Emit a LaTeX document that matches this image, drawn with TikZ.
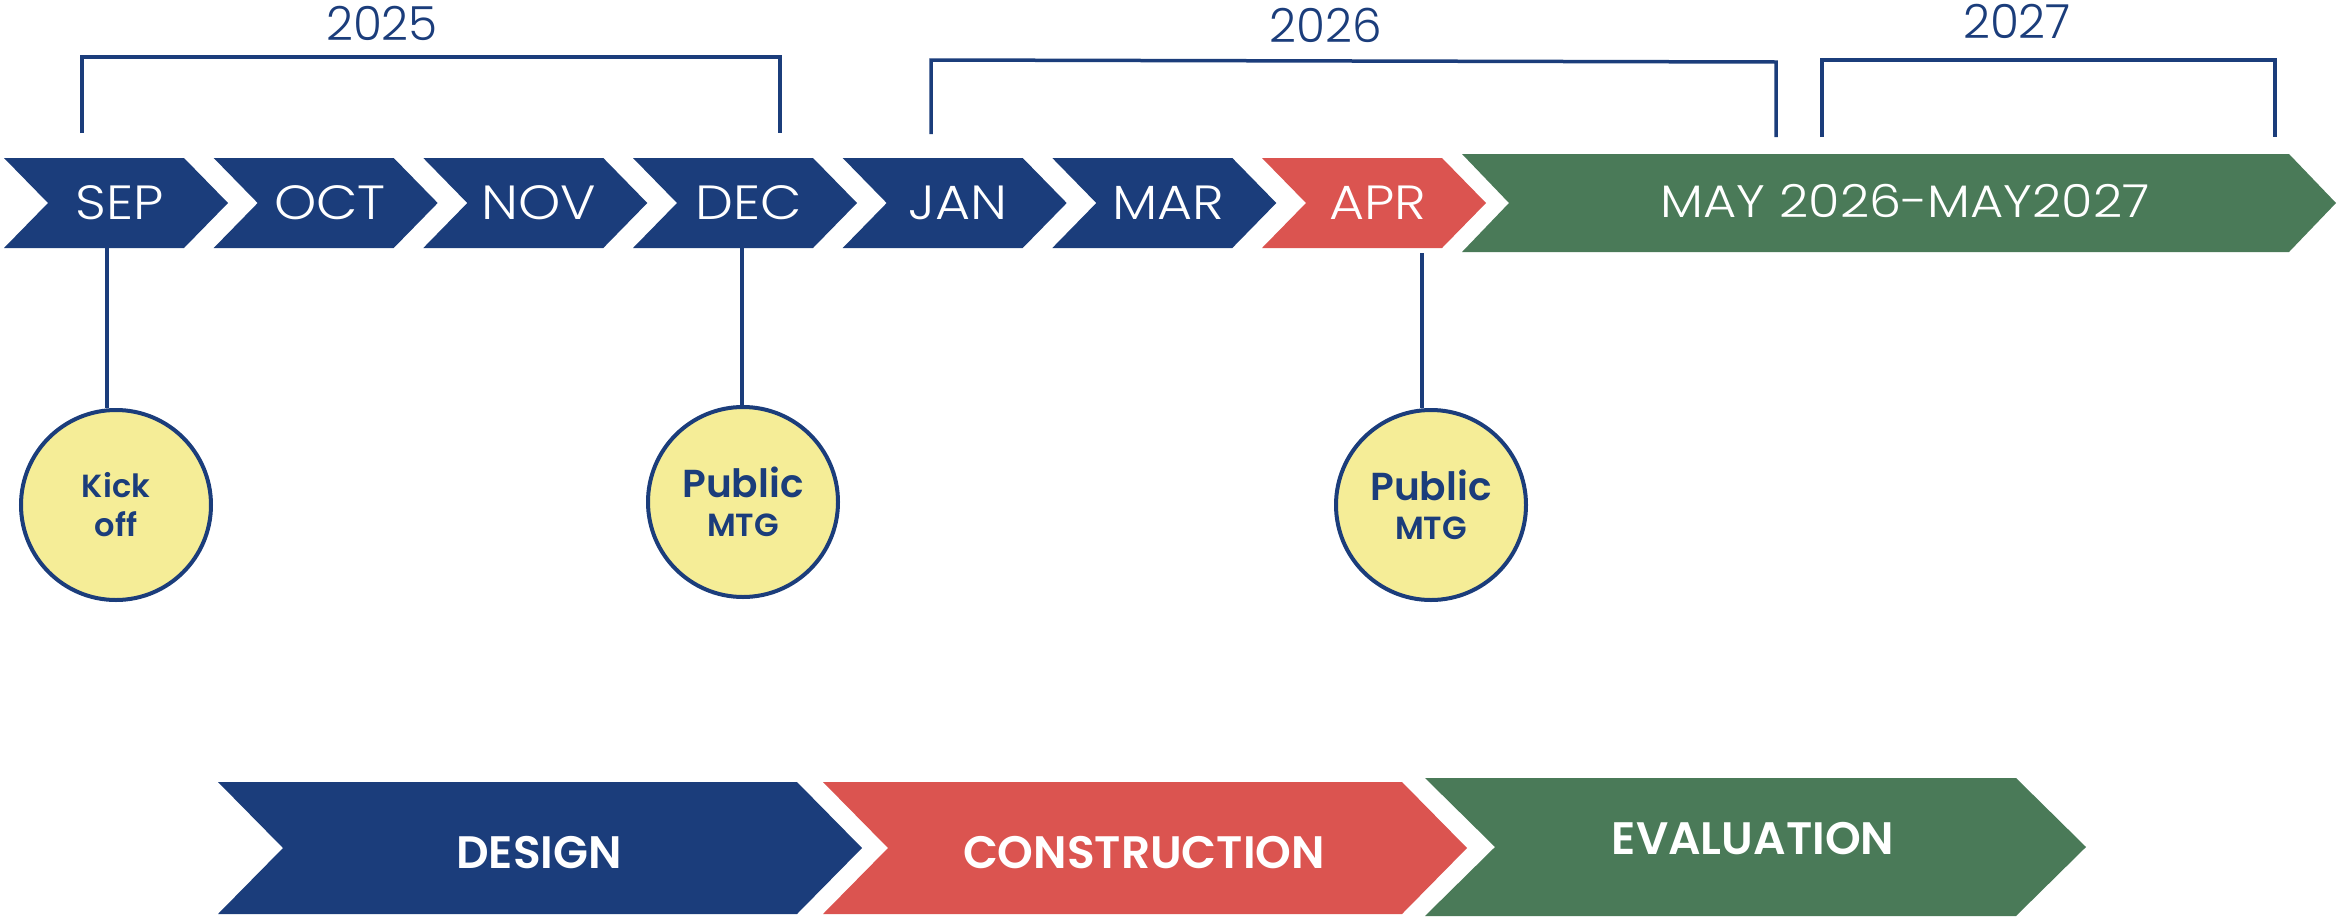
\documentclass[tikz,border=0pt]{standalone}
\usepackage{fontspec}
\setmainfont{Poppins}
\newfontfamily\lightf{Poppins Light}
\newfontfamily\monthf{Poppins Light}[FakeStretch=1.12]
\newfontfamily\boldf{Poppins SemiBold}
\definecolor{tblue}{RGB}{27,61,123}
\definecolor{tred}{RGB}{219,84,80}
\definecolor{tgreen}{RGB}{74,122,88}
\definecolor{tyellow}{RGB}{245,237,151}
% #1 left, #2 top, #3 width (left to tip), #4 height, #5 point depth, #6 colour
\newcommand\chevshape[6]{%
  \fill[#6] (#1,#2) -- ++({#3-#5},0) -- ++(#5,{#4/2}) -- ++(-#5,{#4/2})
    -- ++({-(#3-#5)},0) -- ++(#5,{-#4/2}) -- cycle;}
\begin{document}
\begin{tikzpicture}[x=1pt,y=-1pt,
  month/.style={font=\monthf\fontsize{48}{48}\selectfont, text=white, inner sep=0pt},
  year/.style={font=\lightf\fontsize{47}{47}\selectfont, text=tblue, inner sep=0pt},
  phase/.style={font=\boldf\fontsize{45.5}{45.5}\selectfont, text=white, inner sep=0pt},
  mile/.style={circle, draw=tblue, line width=4pt, fill=tyellow, minimum size=190pt,
    inner sep=0pt, align=center, text=tblue, font=\boldf\fontsize{32}{39}\selectfont},
  bracket/.style={draw=tblue, line width=3.5pt},
  stem/.style={draw=tblue, line width=3.5pt}]
\useasboundingbox (0,0) rectangle (2338,919);

% month chevrons
\chevshape{4}{158}{224}{90}{44}{tblue}
\chevshape{213.7}{158}{224}{90}{44}{tblue}
\chevshape{423.3}{158}{224}{90}{44}{tblue}
\chevshape{633}{158}{224}{90}{44}{tblue}
\chevshape{842.7}{158}{224}{90}{44}{tblue}
\chevshape{1052.3}{158}{224}{90}{44}{tblue}
\chevshape{1262}{158}{224}{90}{44}{tred}
\chevshape{1462}{154}{874}{98}{47}{tgreen}

\node[month] (sep) at (120,203) {SEP};
\node[month] (oct) at (330,203) {OCT};
\node[month] (nov) at (539,203) {NOV};
\node[month] (dec) at (749,203) {DEC};
\node[month] (jan) at (958,203) {JAN};
\node[month] (mar) at (1168,203) {MAR};
\node[month] (apr) at (1378,203) {APR};
\node[month, font=\monthf\fontsize{45.5}{45.5}\selectfont] (may) at (1905,201) {MAY 2026-MAY2027};

% year brackets
\node[year] (y25) at (382,23) {2025};
\node[year] (y26) at (1326,25) {2026};
\node[year] (y27) at (2017,21) {2027};
\coordinate (b25a) at (82,133);  \coordinate (b25b) at (82,57);
\coordinate (b25c) at (780,57);  \coordinate (b25d) at (780,133);
\draw[bracket] (b25a) -- (b25b) -- (b25c) -- (b25d);
\coordinate (b26a) at (931,134); \coordinate (b26b) at (931,60);
\coordinate (b26c) at (1776,62); \coordinate (b26d) at (1776,137);
\draw[bracket] (b26a) -- (b26b) -- (b26c) -- (b26d);
\coordinate (b27a) at (1822,137); \coordinate (b27b) at (1822,60);
\coordinate (b27c) at (2275,60);  \coordinate (b27d) at (2275,137);
\draw[bracket] (b27a) -- (b27b) -- (b27c) -- (b27d);

% milestones
\node[mile] (kick) at (116,505) {Kick\\off};
\node[mile] (pub1) at (743,502) {{\fontsize{39}{39}\selectfont Public}\\MTG};
\node[mile] (pub2) at (1431,505) {{\fontsize{39}{39}\selectfont Public}\\MTG};
\coordinate (s1) at (107,248);
\coordinate (s2) at (742,248);
\coordinate (s3) at (1422,253);
\draw[stem] (s1) -- (s1 |- kick.north);
\draw[stem] (s2) -- (s2 |- pub1.north);
\draw[stem] (s3) -- (s3 |- pub2.north);

% phase chevrons
\chevshape{218}{782}{644}{132}{65}{tblue}
\chevshape{823}{782}{644}{132}{65}{tred}
\chevshape{1425}{778}{661}{138}{70}{tgreen}
\node[phase] (design) at (539,853) {DESIGN};
\node[phase] (constr) at (1144,853) {CONSTRUCTION};
\node[phase] (eval) at (1753,839) {EVALUATION};
\end{tikzpicture}
\end{document}
